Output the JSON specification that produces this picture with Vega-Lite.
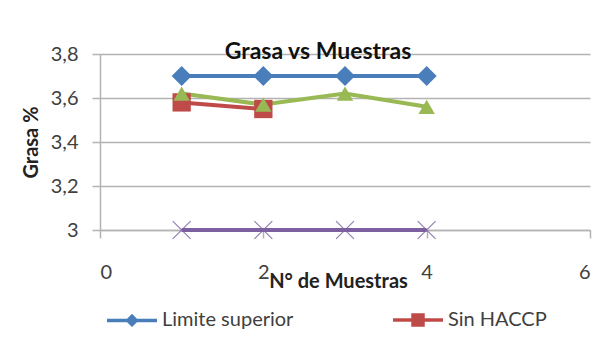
{
  "$schema": "https://vega.github.io/schema/vega-lite/v6.json",
  "width": 490,
  "height": 176,
  "autosize": {"type": "none"},
  "padding": {"left": 100, "top": 54, "right": 22, "bottom": 107},
  "background": "white",
  "title": {
    "text": "Grasa vs Muestras",
    "font": "Lato",
    "fontSize": 23,
    "fontWeight": "bold",
    "color": "#111111",
    "anchor": "middle",
    "baseline": "middle",
    "offset": -31,
    "dx": -27
  },
  "data": {
    "values": [
      {"serie": "Limite superior", "muestra": 1, "grasa": 3.7},
      {"serie": "Limite superior", "muestra": 2, "grasa": 3.7},
      {"serie": "Limite superior", "muestra": 3, "grasa": 3.7},
      {"serie": "Limite superior", "muestra": 4, "grasa": 3.7},
      {"serie": "Sin HACCP", "muestra": 1, "grasa": 3.58},
      {"serie": "Sin HACCP", "muestra": 2, "grasa": 3.55},
      {"serie": "Con HACCP", "muestra": 1, "grasa": 3.62},
      {"serie": "Con HACCP", "muestra": 2, "grasa": 3.57},
      {"serie": "Con HACCP", "muestra": 3, "grasa": 3.62},
      {"serie": "Con HACCP", "muestra": 4, "grasa": 3.56},
      {"serie": "Limite inferior", "muestra": 1, "grasa": 3.0},
      {"serie": "Limite inferior", "muestra": 2, "grasa": 3.0},
      {"serie": "Limite inferior", "muestra": 3, "grasa": 3.0},
      {"serie": "Limite inferior", "muestra": 4, "grasa": 3.0}
    ]
  },
  "encoding": {
    "x": {
      "field": "muestra",
      "type": "quantitative",
      "scale": {"domain": [0, 6], "nice": false},
      "axis": {
        "title": "N° de Muestras",
        "values": [0, 2, 4, 6],
        "grid": false,
        "labelPadding": 24,
        "tickSize": 8,
        "titleX": 238,
        "titleY": 51,
        "titleBaseline": "middle",
        "titleAlign": "center"
      }
    },
    "y": {
      "field": "grasa",
      "type": "quantitative",
      "scale": {"domain": [3, 3.8], "nice": false, "zero": false},
      "axis": {
        "title": "Grasa %",
        "values": [3, 3.2, 3.4, 3.6, 3.8],
        "labelExpr": "replace(format(datum.value, '.1~f'), '.', ',')",
        "grid": true,
        "tickSize": 8,
        "labelPadding": 14,
        "titleX": -69,
        "titleY": 88,
        "titleAngle": -90,
        "titleAlign": "center",
        "titleBaseline": "middle"
      }
    },
    "color": {
      "field": "serie",
      "type": "nominal",
      "scale": {
        "domain": ["Limite superior", "Sin HACCP", "Con HACCP", "Limite inferior"],
        "range": ["#4a7ebb", "#be4b48", "#98b954", "#7d60a0"]
      }
    }
  },
  "layer": [
    {
      "mark": {"type": "line", "strokeWidth": 4},
      "encoding": {
        "color": {
          "field": "serie",
          "type": "nominal",
          "legend": {
            "title": null,
            "orient": "none",
            "legendX": 5,
            "legendY": 239,
            "direction": "horizontal",
            "values": ["Limite superior", "Sin HACCP"],
            "symbolSize": 2500,
            "symbolStrokeWidth": 3.5,
            "labelOffset": 3,
            "columnPadding": 92,
            "labelFont": "Lato",
            "labelFontSize": 20,
            "labelColor": "#404040",
            "encode": {
              "symbols": {
                "update": {
                  "shape": {"signal": "datum.value === 'Limite superior' ? 'M-1,0H1M0,-0.17L0.17,0L0,0.17L-0.17,0Z' : 'M-1,0H1M-0.2,-0.2H0.2V0.2H-0.2Z'"},
                  "fill": {"scale": "color", "field": "value"},
                  "stroke": {"scale": "color", "field": "value"},
                  "fillOpacity": {"value": 1}
                }
              }
            }
          }
        }
      }
    },
    {
      "transform": [{"filter": "datum.serie !== 'Limite inferior'"}],
      "mark": {"type": "point", "filled": true, "opacity": 1},
      "encoding": {
        "shape": {
          "field": "serie",
          "type": "nominal",
          "scale": {
            "domain": ["Limite superior", "Sin HACCP", "Con HACCP"],
            "range": ["diamond", "square", "triangle-up"]
          },
          "legend": null
        },
        "size": {
          "field": "serie",
          "type": "nominal",
          "scale": {
            "domain": ["Limite superior", "Sin HACCP", "Con HACCP"],
            "range": [400, 270, 320]
          },
          "legend": null
        }
      }
    },
    {
      "transform": [{"filter": "datum.serie === 'Limite inferior'"}],
      "mark": {"type": "point", "filled": false, "shape": "M-1,-1L1,1M-1,1L1,-1", "size": 320, "strokeWidth": 1.2, "opacity": 0.8}
    }
  ],
  "config": {
    "view": {"stroke": null},
    "font": "Lato",
    "axis": {
      "labelFont": "Lato",
      "labelFontSize": 20,
      "labelColor": "#404040",
      "titleFont": "Lato",
      "titleFontSize": 20,
      "titleFontWeight": "bold",
      "titleColor": "#222222",
      "domainColor": "#b3b3b3",
      "domainWidth": 1.5,
      "tickColor": "#b3b3b3",
      "tickWidth": 1.5,
      "gridColor": "#b3b3b3",
      "gridWidth": 1.5
    }
  }
}
